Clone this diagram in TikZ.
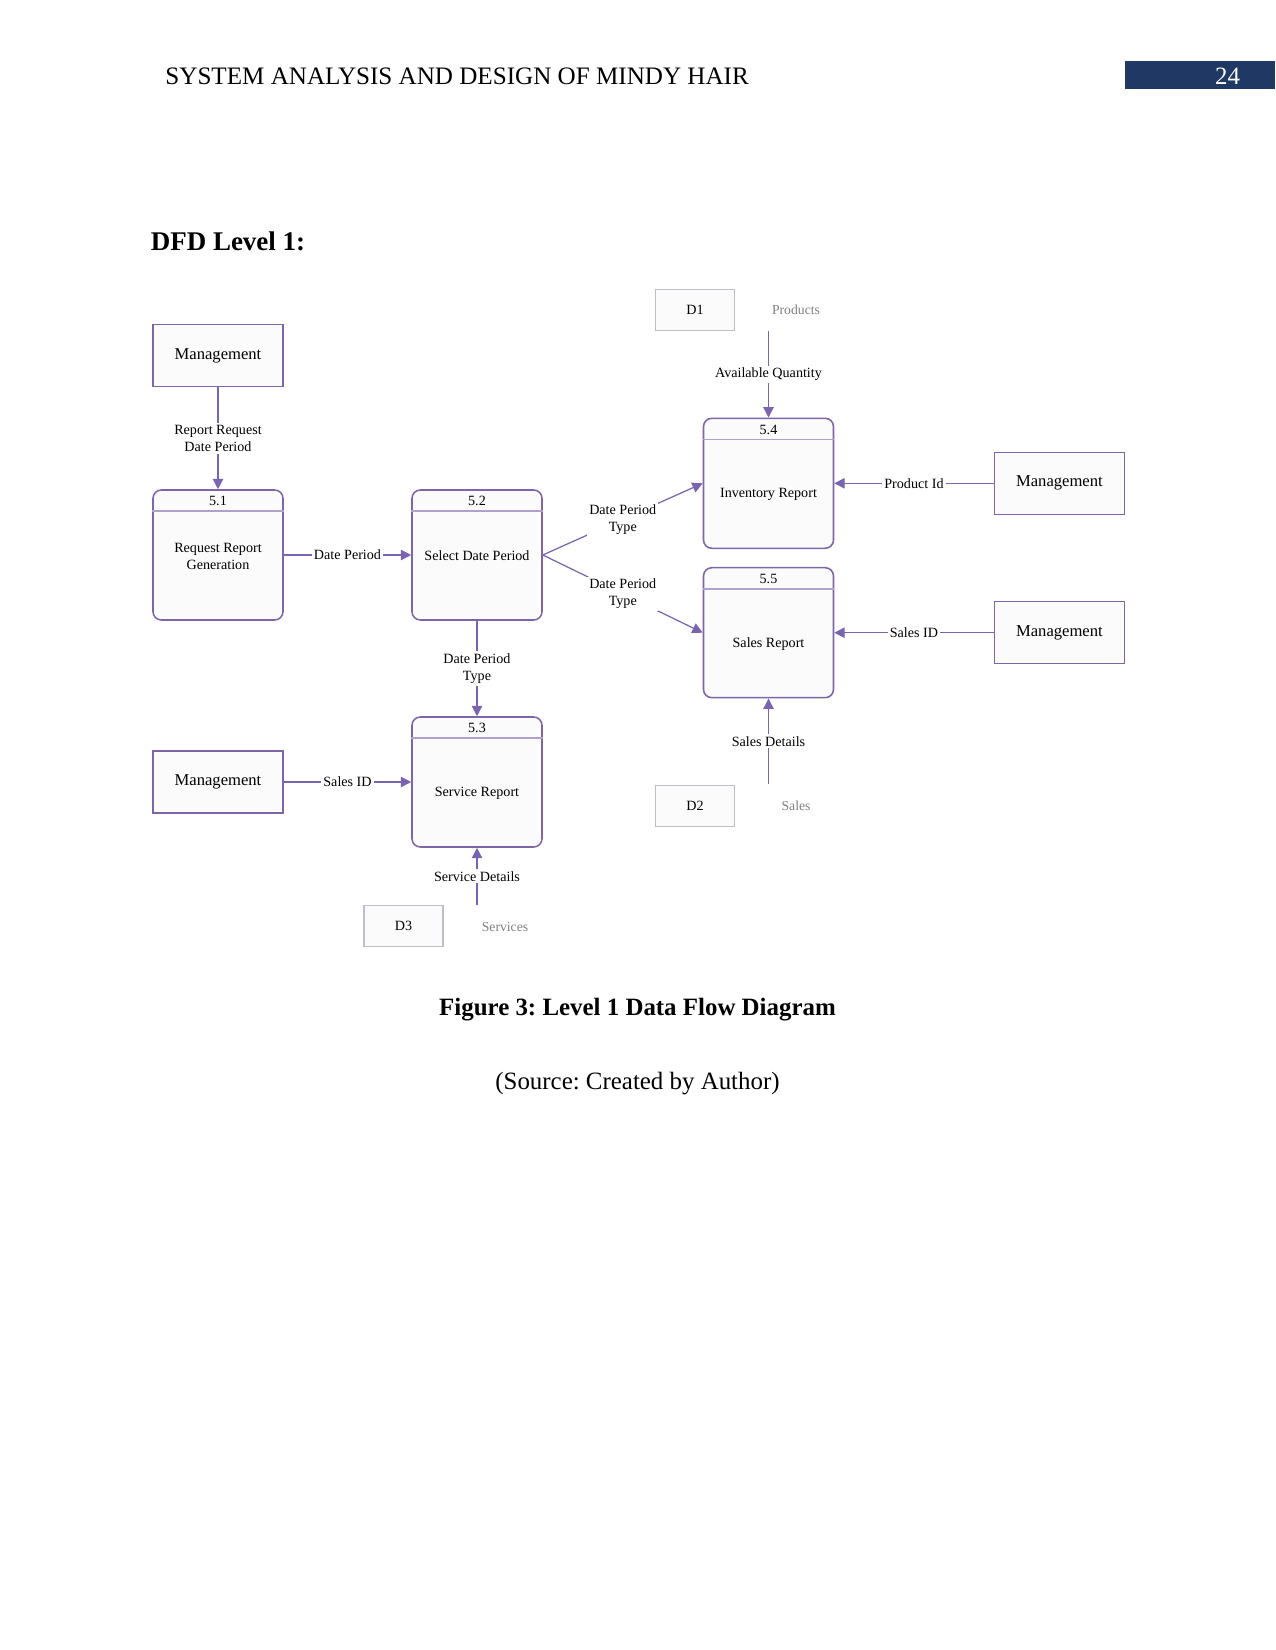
\documentclass[tikz,border=0pt]{standalone}
\usepackage{fontspec}
\setmainfont{Liberation Serif}
\usetikzlibrary{arrows.meta, calc}
\definecolor{dfdline}{RGB}{122,100,178}
\definecolor{dfdedge}{RGB}{112,84,160}
\definecolor{storeedge}{RGB}{190,190,198}
\definecolor{headblue}{RGB}{31,56,100}
\newcommand{\px}{0.4818pt}
\frenchspacing

\begin{document}
\begin{tikzpicture}[x=\px, y=-\px,
	lbl/.style={font=\fontsize{6.8}{8.2}\selectfont, align=center, inner sep=1pt},
	onwire/.style={lbl, fill=white, midway},
	flow/.style={draw=dfdline, line width=0.6pt, -{Triangle[length=5pt,width=5pt]}},
	divide/.style={draw=dfdedge!55, line width=0.7pt},
	ext/.style={draw=dfdedge!90, line width=0.75pt, fill=gray!3, minimum width=130*\px, minimum height=62*\px, font=\fontsize{8}{10}\selectfont},
	proc/.style={draw=dfdedge!90, line width=0.75pt, fill=gray!3, rounded corners=4pt, minimum width=130*\px, minimum height=130*\px},
	store/.style={draw=storeedge, line width=0.8pt, fill=gray!3, minimum width=79*\px, minimum height=41*\px, font=\fontsize{6.8}{8}\selectfont},
	sname/.style={font=\fontsize{6.6}{8}\selectfont, text=gray}]
	\useasboundingbox (0,0) rectangle (1275,1650);

	% page header and caption
	\node[anchor=west, inner sep=0, font=\fontsize{12.1}{14}\selectfont] (head) at (165,76) {SYSTEM ANALYSIS AND DESIGN OF MINDY HAIR};
	\fill[headblue] (1124.6,61) rectangle (1275,89.4);
	\node[text=white, font=\fontsize{12}{14}\selectfont] (page) at (1227.6,76) {24};
	\node[anchor=west, inner sep=0, font=\fontsize{13}{15}\selectfont\bfseries] (title) at (150.4,241) {DFD Level 1:};
	\node[font=\fontsize{12}{14}\selectfont\bfseries] (cap) at (637.5,1010) {Figure 3: Level 1 Data Flow Diagram};
	\node[font=\fontsize{12}{14}\selectfont] (src) at (637.5,1084) {(Source: Created by Author)};

	% external entities
	\node[ext] (m1) at (218,355.5) {Management};
	\node[ext] (m3) at (218,782) {Management};
	\node[ext] (m4) at (1059.4,483.3) {Management};
	\node[ext] (m5) at (1059.4,632.7) {Management};

	% processes
	\node[proc] (p51) at (218,555) {};
	\node[proc] (p52) at (477,555) {};
	\node[proc] (p53) at (477,782) {};
	\node[proc] (p54) at (768.5,483.3) {};
	\node[proc] (p55) at (768.5,632.7) {};
	\draw[divide] ($(p51.north west)+(0,22)$) -- ($(p51.north east)+(0,22)$);
	\draw[divide] ($(p52.north west)+(0,22)$) -- ($(p52.north east)+(0,22)$);
	\draw[divide] ($(p53.north west)+(0,22)$) -- ($(p53.north east)+(0,22)$);
	\draw[divide] ($(p54.north west)+(0,22)$) -- ($(p54.north east)+(0,22)$);
	\draw[divide] ($(p55.north west)+(0,22)$) -- ($(p55.north east)+(0,22)$);
	\node[lbl] (n51) at ($(p51.north)+(0,12)$) {5.1};
	\node[lbl] (n52) at ($(p52.north)+(0,12)$) {5.2};
	\node[lbl] (n53) at ($(p53.north)+(0,12)$) {5.3};
	\node[lbl] (n54) at ($(p54.north)+(0,12)$) {5.4};
	\node[lbl] (n55) at ($(p55.north)+(0,12)$) {5.5};
	\node[lbl] (t51) at ($(p51)+(0,1)$) {Request Report\\Generation};
	\node[lbl] (t52) at ($(p52)+(0,1)$) {Select Date Period};
	\node[lbl] (t53) at ($(p53)+(0,11)$) {Service Report};
	\node[lbl] (t54) at ($(p54)+(0,11)$) {Inventory Report};
	\node[lbl] (t55) at ($(p55)+(0,11)$) {Sales Report};

	% data stores
	\node[store] (d1) at (695,310) {D1};
	\node[sname] (s1) at (796,310) {Products};
	\node[store] (d2) at (695,806) {D2};
	\node[sname] (s2) at (796,806) {Sales};
	\node[store] (d3) at (403.5,926) {D3};
	\node[sname] (s3) at (505,927) {Services};
	\coordinate (q1) at (768.5,331);
	\coordinate (q2) at (768.5,784);
	\coordinate (q3) at (477,904.7);

	% data flows
	\draw[flow] (m1) -- node[onwire] {Report Request\\Date Period} (p51);
	\draw[flow] (p51) -- node[onwire] {Date Period} (p52);
	\draw[flow] (p52) -- node[onwire] {Date Period\\Type} (p53);
	\draw[flow] (p52.east) -- node[onwire] {Date Period\\Type} (p54.west);
	\draw[flow] (p52.east) -- node[onwire] {Date Period\\Type} (p55.west);
	\draw[flow] (m3) -- node[onwire] {Sales ID} (p53);
	\draw[flow] (m4) -- node[onwire] {Product Id} (p54);
	\draw[flow] (m5) -- node[onwire] {Sales ID} (p55);
	\draw[flow] (q1) -- node[onwire] {Available Quantity} (p54);
	\draw[flow] (q2) -- node[onwire] {Sales Details} (p55);
	\draw[flow] (q3) -- node[onwire] {Service Details} (p53);
\end{tikzpicture}
\end{document}
